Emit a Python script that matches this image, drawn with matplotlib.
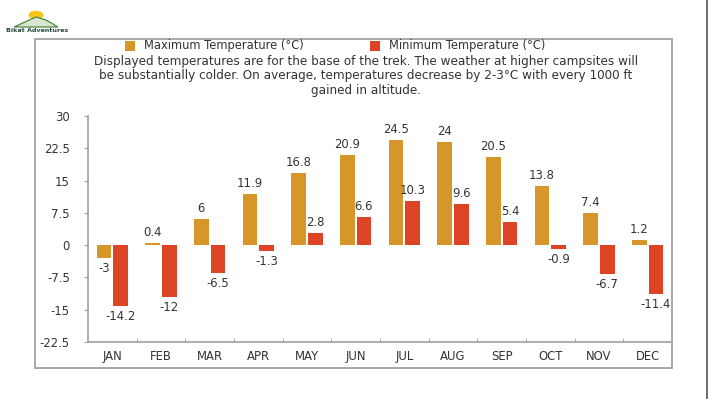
import matplotlib
matplotlib.use("Agg")
import matplotlib.pyplot as plt
from matplotlib.patches import Rectangle, Circle, Polygon
from matplotlib.lines import Line2D

# Monthly temperatures at trek base (°C)
months = ["JAN", "FEB", "MAR", "APR", "MAY", "JUN", "JUL", "AUG", "SEP", "OCT", "NOV", "DEC"]
max_temp = [-3, 0.4, 6, 11.9, 16.8, 20.9, 24.5, 24, 20.5, 13.8, 7.4, 1.2]
min_temp = [-14.2, -12, -6.5, -1.3, 2.8, 6.6, 10.3, 9.6, 5.4, -0.9, -6.7, -11.4]
y_ticks = [-22.5, -15, -7.5, 0, 7.5, 15, 22.5, 30]
y_tick_labels = ["-22.5", "-15", "-7.5", "0", "7.5", "15", "22.5", "30"]

MAX_COLOR = "#D6962A"
MIN_COLOR = "#DD4426"
TEXT_COLOR = "#333333"
AXIS_COLOR = "#A0A0A0"

W, H = 709, 399
fig = plt.figure(figsize=(W / 100, H / 100), dpi=100)
fig.patch.set_facecolor("white")

# outer frame around the chart
fig.patches.append(Rectangle((35 / W, 1 - 368 / H), (672 - 35) / W, (368 - 39) / H,
                             transform=fig.transFigure, fill=False,
                             edgecolor="#A8A8A8", linewidth=1.4))
# slide border on the right
fig.lines.append(Line2D([707 / W, 707 / W], [0, 1], transform=fig.transFigure,
                        color="#555555", linewidth=1.2))

# logo
fig.patches.append(Circle((36 / W, 1 - 15 / H), 7.5 / W, transform=fig.transFigure,
                          facecolor="#F5C518", edgecolor="none"))
fig.patches.append(Polygon([(14 / W, 1 - 27 / H), (36 / W, 1 - 17 / H), (46 / W, 1 - 20 / H),
                            (58 / W, 1 - 27 / H), (14 / W, 1 - 27 / H)],
                           closed=True, transform=fig.transFigure,
                           facecolor="#D9E5D0", edgecolor="#4C8A3A", linewidth=0.9))
fig.text(37 / W, 1 - 31 / H, "Bikat Adventures", fontsize=4.6, fontweight="bold",
         color="#244A3A", ha="center", va="center")

ax = fig.add_axes([88 / W, 1 - 342 / H, (672 - 88) / W, (342 - 116) / H])

x = list(range(len(months)))
off, bw = 0.17, 0.3
ax.bar([i - off for i in x], max_temp, width=bw, color=MAX_COLOR, zorder=2)
ax.bar([i + off for i in x], min_temp, width=bw, color=MIN_COLOR, zorder=2)

for i, (a, b) in enumerate(zip(max_temp, min_temp)):
    for xi, v in ((i - off, a), (i + off, b)):
        label = f"{v:g}"
        if v >= 0:
            ax.annotate(label, (xi, v), xytext=(0, 3), textcoords="offset points",
                        ha="center", va="bottom", fontsize=8.4, color=TEXT_COLOR)
        else:
            ax.annotate(label, (xi, v), xytext=(0, -3), textcoords="offset points",
                        ha="center", va="top", fontsize=8.4, color=TEXT_COLOR)

ax.set_xlim(-0.5, len(months) - 0.5)
ax.set_ylim(-22.5, 30)
ax.set_yticks(y_ticks)
ax.set_yticklabels(y_tick_labels)
ax.set_xticks(x)
ax.set_xticklabels(months)
ax.set_xticks([i + 0.5 for i in x[:-1]], minor=True)
ax.tick_params(axis="x", which="major", length=0, pad=6, labelsize=8.4, labelcolor=TEXT_COLOR)
ax.tick_params(axis="x", which="minor", length=3, direction="in", color=AXIS_COLOR)
ax.tick_params(axis="y", length=3, direction="out", color=AXIS_COLOR, pad=10,
               labelsize=8.4, labelcolor=TEXT_COLOR)

for side in ("top", "right"):
    ax.spines[side].set_visible(False)
for side in ("left", "bottom"):
    ax.spines[side].set_color(AXIS_COLOR)
    ax.spines[side].set_linewidth(1.2)

# legend and note above the plot
fig.patches.append(Rectangle((125 / W, 1 - 51 / H), 10 / W, 10 / H, transform=fig.transFigure,
                             facecolor=MAX_COLOR, edgecolor="none"))
fig.text(144 / W, 1 - 46 / H, "Maximum Temperature (°C)", fontsize=8.3, color=TEXT_COLOR,
         ha="left", va="center")
fig.patches.append(Rectangle((370 / W, 1 - 51 / H), 10 / W, 10 / H, transform=fig.transFigure,
                             facecolor=MIN_COLOR, edgecolor="none"))
fig.text(389 / W, 1 - 46 / H, "Minimum Temperature (°C)", fontsize=8.3, color=TEXT_COLOR,
         ha="left", va="center")

note = ("Displayed temperatures are for the base of the trek. The weather at higher campsites will\n"
        "be substantially colder. On average, temperatures decrease by 2-3°C with every 1000 ft\n"
        "gained in altitude.")
fig.text(366 / W, 1 - 76 / H, note, fontsize=8.65, color=TEXT_COLOR, ha="center", va="center",
         linespacing=1.12)

fig.savefig("out.png", dpi=100)
